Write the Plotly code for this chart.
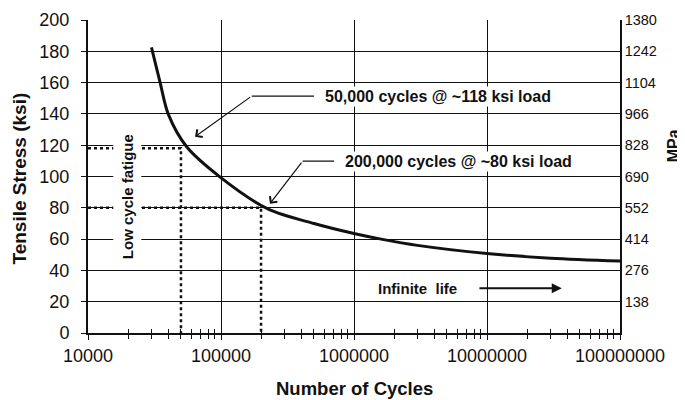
import plotly.graph_objects as go

# S-N curve
cycles = [30000, 34750, 40200, 55200, 98000, 227000, 500000, 1000000,
          1600000, 3000000, 10000000, 30000000, 100000000]
stress_ksi = [182.5, 160.5, 139.7, 119, 99.8, 79.1, 70, 63.6, 60, 56, 50.8,
              47.8, 46]

# marked points
low_cycles = [50000, 200000]
low_stress = [118, 80]

x_ticks = [10000, 100000, 1000000, 10000000, 100000000]
x_ticktext = ["10000", "100000", "1000000", "10000000", "100000000"]
y_ticks = [0, 20, 40, 60, 80, 100, 120, 140, 160, 180, 200]
mpa_ticks = [138, 276, 414, 552, 690, 828, 966, 1104, 1242, 1380]

FONT = "Liberation Sans, Arial, sans-serif"
INK = "#111111"

fig = go.Figure()

# dotted guide lines
for c, s in zip(low_cycles, low_stress):
    fig.add_trace(go.Scatter(x=[10000, c, c], y=[s, s, 0], mode="lines",
                             line=dict(color=INK, width=2.5, dash="dot"),
                             hoverinfo="skip", showlegend=False))

fig.add_trace(go.Scatter(x=cycles, y=stress_ksi, mode="lines",
                         line=dict(color=INK, width=3, shape="spline",
                                   smoothing=0.9),
                         showlegend=False))

# helper traces so the overlay axes get drawn
fig.add_trace(go.Scatter(x=[10000], y=[0], xaxis="x2", yaxis="y",
                         mode="markers", opacity=0, showlegend=False,
                         hoverinfo="skip"))
fig.add_trace(go.Scatter(x=[10000], y=[0], xaxis="x", yaxis="y2",
                         mode="markers", opacity=0, showlegend=False,
                         hoverinfo="skip"))

bold = dict(family=FONT, size=16, color=INK)

# annotation leaders: horizontal piece then arrow
fig.add_shape(type="line", xref="x", yref="y", x0=10**5.231, x1=10**5.70,
              y0=151.4, y1=151.4, line=dict(color=INK, width=1.2))
fig.add_shape(type="line", xref="x", yref="y", x0=10**5.614, x1=10**5.85,
              y0=109.8, y1=109.8, line=dict(color=INK, width=1.2))

fig.add_annotation(x=4.805, y=125.4, ax=5.231, ay=151.4, axref="x",
                   ayref="y", text="", showarrow=True, arrowhead=4,
                   arrowsize=1.5, arrowwidth=1.2, arrowcolor=INK)
fig.add_annotation(x=5.368, y=82.6, ax=5.614, ay=109.8, axref="x",
                   ayref="y", text="", showarrow=True, arrowhead=4,
                   arrowsize=1.5, arrowwidth=1.2, arrowcolor=INK)
fig.add_annotation(x=7.562, y=28.6, ax=6.932, ay=28.6, axref="x",
                   ayref="y", text="", showarrow=True, arrowhead=2,
                   arrowsize=1, arrowwidth=2, arrowcolor=INK)

fig.add_annotation(x=6.628, y=151.4, text="<b>50,000 cycles @ ~118 ksi load</b>",
                   showarrow=False, font=bold, bgcolor="white")
fig.add_annotation(x=6.789, y=109.8, text="<b>200,000 cycles @ ~80 ksi load</b>",
                   showarrow=False, font=bold, bgcolor="white")
fig.add_annotation(x=6.477, y=28.6, text="<b>Infinite  life</b>",
                   showarrow=False, font=dict(family=FONT, size=15, color=INK))
fig.add_annotation(x=4.293, y=87.4, text="<b>Low cycle fatigue</b>",
                   textangle=-90, showarrow=False,
                   font=dict(family=FONT, size=15, color=INK),
                   bgcolor="white", borderpad=5)

# axis titles
fig.add_annotation(xref="paper", yref="paper", x=0.5, y=-0.178,
                   xanchor="center", yanchor="middle",
                   text="<b>Number of Cycles</b>", showarrow=False,
                   font=dict(family=FONT, size=18.5, color=INK))
fig.add_annotation(xref="paper", yref="paper", x=-0.1306, y=0.492,
                   xanchor="center", yanchor="middle",
                   text="<b>Tensile Stress (ksi)</b>", textangle=-90,
                   showarrow=False, font=dict(family=FONT, size=19, color=INK))
fig.add_annotation(xref="paper", yref="paper", x=1.1, y=0.597,
                   xanchor="center", yanchor="middle",
                   text="<b>MPa</b>", textangle=-90, showarrow=False,
                   font=dict(family=FONT, size=16, color=INK))

fig.update_layout(
    # page body adds an 8px margin, so the figure is 8px smaller each way
    width=677, height=392,
    margin=dict(l=80, r=65, t=12, b=67),
    plot_bgcolor="white", paper_bgcolor="white",
    font=dict(family=FONT, color=INK),
    xaxis=dict(type="log", range=[4, 8], tickmode="array", tickvals=x_ticks,
               ticktext=x_ticktext, tickfont=dict(size=18),
               showgrid=True, gridcolor=INK, gridwidth=1.3,
               showline=True, linecolor=INK, linewidth=2,
               ticks="outside", ticklen=5, tickcolor=INK, tickwidth=1.3,
               minor=dict(ticks="outside", ticklen=4, tickcolor=INK,
                          tickwidth=1.2, dtick="D1", showgrid=False),
               zeroline=False, automargin=False),
    xaxis2=dict(type="log", range=[4, 8], overlaying="x", anchor="y",
                side="bottom", showticklabels=False, showgrid=False,
                tickmode="array", tickvals=x_ticks,
                ticks="inside", ticklen=5, tickcolor=INK, tickwidth=1.3,
                minor=dict(ticks="inside", ticklen=4, tickcolor=INK,
                           tickwidth=1.2, dtick="D1", showgrid=False),
                showline=False, zeroline=False),
    yaxis=dict(range=[0, 200], tickmode="array", tickvals=y_ticks,
               tickfont=dict(size=18), showgrid=True, gridcolor=INK,
               gridwidth=1.3, showline=True, linecolor=INK, linewidth=2,
               ticks="outside", ticklen=5, tickcolor=INK,
               ticklabelstandoff=8, zeroline=False, automargin=False),
    yaxis2=dict(range=[0, 1380], overlaying="y", side="right", anchor="x",
                tickmode="array", tickvals=mpa_ticks, tickfont=dict(size=14.5),
                showgrid=False, showline=True, linecolor=INK, linewidth=1.5,
                ticks="", ticklabelstandoff=0, zeroline=False,
                automargin=False),
)

fig.write_html("out.html")
